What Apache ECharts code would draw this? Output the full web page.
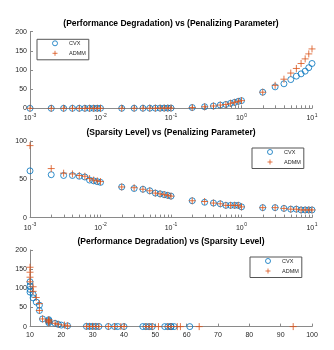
<!DOCTYPE html>
<html>
<head>
<meta charset="utf-8">
<script src="https://cdn.jsdelivr.net/npm/echarts@6/dist/echarts.min.js"></script>
<style>html,body{margin:0;padding:0;background:#fff}#c{width:334px;height:350px}</style>
</head>
<body>
<div id="c"></div>
<script>
// Penalizing parameter (lambda)
const lambda = [0.001,0.002,0.003,0.004,0.005,0.006,0.007,0.008,0.009,0.01,
  0.02,0.03,0.04,0.05,0.06,0.07,0.08,0.09,0.1,
  0.2,0.3,0.4,0.5,0.6,0.7,0.8,0.9,1,
  2,3,4,5,6,7,8,9,10];
// Performance degradation
const cvxPerf = [0,0,0,0,0,0,0,0,0,0.1,
  0.1,0.2,0.2,0.3,0.3,0.4,0.5,0.5,0.6,
  2,4,6,8.5,10,13,15.5,18,20,
  42,56,64,75,84,90,97,106,117];
const admmPerf = [0,0,0,0,0,0,0,0,0,0.1,
  0.1,0.2,0.2,0.3,0.3,0.4,0.5,0.5,0.6,
  2,4,6,8.5,10,13,15.5,18,20,
  42,60,76,92,104,117,129,142,155];
// Sparsity level
const cvxSparsity = [61,56,55,55,54,53,49,48,47,46,
  40,38,37,35,32,31,30,29,28,
  22,20,19,18,16,16,16,16,14,
  13,13,12,11,11,10,10,10,10];
const admmSparsity = [94,64,58,57,55,54,51,49,48,47,
  40,39,37,35,32,31,30,29,28,
  22,21,19,18,16,16,16,16,14,
  13,13,12,11,11,10,10,10,10];
// Log-axis minor tick values
const minorTicks = [];
[0.001,0.01,0.1,1].forEach(d => { for (let k = 2; k <= 9; k++) minorTicks.push(+(k*d).toPrecision(3)); });

const titles = ['(Performance Degradation) vs (Penalizing Parameter)',
  '(Sparsity Level) vs (Penalizing Parameter)',
  '(Performance Degradation) vs (Sparsity Level)'];
const seriesNames = ['CVX','ADMM'];

const BLUE = '#0072BD', ORANGE = '#D95319', AX = '#8a8a8a', TXT = '#262626';
const FONT = 'Liberation Sans, Arial, sans-serif';
const PLUS = 'path://M0,5L10,5M5,0L5,10';

const gridTops = [31.7, 141, 250];
const gridH = 76.6;

function zip(a, b) { return a.map((v, i) => [v, b[i]]); }

const logLabel = {
  fontFamily: FONT, color: TXT, margin: 5,
  formatter: v => '{b|10}{s|' + Math.round(Math.log10(v)) + '}',
  rich: { b: { fontSize: 7, fontFamily: FONT, color: TXT },
          s: { fontSize: 5, fontFamily: FONT, color: TXT, padding: [0, 0, 5, 0.5] } }
};
const axisCommon = {
  axisLine: { show: true, lineStyle: { color: AX, width: 1 } },
  axisTick: { show: true, inside: true, length: 3, lineStyle: { color: AX } },
  splitLine: { show: false }
};

const legendIcons = {
  CVX: { icon: 'circle', itemStyle: { color: 'rgba(0,0,0,0)', borderColor: BLUE, borderWidth: 1 } },
  ADMM: { icon: PLUS, itemStyle: { color: 'rgba(0,0,0,0)', borderColor: ORANGE, borderWidth: 1 } }
};

const option = {
  animation: false,
  backgroundColor: '#fff',
  title: titles.map((t, i) => ({
    text: t, left: 171, textAlign: 'center', top: gridTops[i] - 13, padding: 0,
    textStyle: { fontSize: 8.5, fontWeight: 'bold', fontFamily: FONT, color: '#000', lineHeight: 10 }
  })),
  grid: gridTops.map(t => ({ left: 30, right: 22, top: t, height: gridH })),
  xAxis: [
    Object.assign({ type: 'log', logBase: 10, min: 0.001, max: 10, gridIndex: 0, axisLabel: logLabel }, axisCommon),
    Object.assign({ type: 'log', logBase: 10, min: 0.001, max: 10, gridIndex: 1, axisLabel: logLabel }, axisCommon),
    Object.assign({ type: 'value', min: 10, max: 100, interval: 10, gridIndex: 2,
      axisLabel: { fontSize: 7, fontFamily: FONT, color: TXT, margin: 5 } }, axisCommon)
  ],
  yAxis: [
    Object.assign({ type: 'value', min: 0, max: 200, interval: 50, gridIndex: 0,
      axisLabel: { fontSize: 7, fontFamily: FONT, color: TXT, margin: 3 } }, axisCommon),
    Object.assign({ type: 'value', min: 0, max: 100, interval: 50, gridIndex: 1,
      axisLabel: { fontSize: 7, fontFamily: FONT, color: TXT, margin: 3 } }, axisCommon),
    Object.assign({ type: 'value', min: 0, max: 200, interval: 50, gridIndex: 2,
      axisLabel: { fontSize: 7, fontFamily: FONT, color: TXT, margin: 3 } }, axisCommon)
  ],
  legend: [[37, 39.3], [252, 148], [250, 257]].map((p, i) => ({
    data: seriesNames.map(n => Object.assign({ name: n + (i ? ' ' + i : '') }, legendIcons[n])),
    formatter: n => n.split(' ')[0],
    left: p[0], top: p[1], orient: 'vertical',
    itemWidth: 18, itemHeight: 5, itemGap: 4,
    padding: [1, 3, 3.5, 15],
    borderColor: '#555', borderWidth: 1, backgroundColor: '#fff',
    textStyle: { fontSize: 5.5, fontFamily: FONT, color: TXT }
  })),
  series: []
};

const sets = [
  [zip(lambda, cvxPerf), zip(lambda, admmPerf)],
  [zip(lambda, cvxSparsity), zip(lambda, admmSparsity)],
  [zip(cvxSparsity, cvxPerf), zip(admmSparsity, admmPerf)]
];
sets.forEach((pair, i) => {
  option.series.push({
    type: 'scatter', name: 'CVX' + (i ? ' ' + i : ''), xAxisIndex: i, yAxisIndex: i,
    data: pair[0], symbol: 'circle', symbolSize: 6,
    itemStyle: { color: 'rgba(0,0,0,0)', borderColor: BLUE, borderWidth: 1 },
    emphasis: { disabled: true }
  });
  option.series.push({
    type: 'scatter', name: 'ADMM' + (i ? ' ' + i : ''), xAxisIndex: i, yAxisIndex: i,
    data: pair[1], symbol: PLUS, symbolSize: 7,
    itemStyle: { color: 'rgba(0,0,0,0)', borderColor: ORANGE, borderWidth: 1 },
    emphasis: { disabled: true }
  });
});
[0, 1].forEach(i => {
  option.series.push({
    type: 'custom', xAxisIndex: i, yAxisIndex: i, silent: true, clip: false,
    data: minorTicks.map(v => [v, 0]),
    renderItem: (params, api) => {
      const p = api.coord([api.value(0), 0]);
      const x = Math.round(p[0]) + 0.5;
      return { type: 'line', shape: { x1: x, y1: p[1], x2: x, y2: p[1] - 3 },
        style: { stroke: AX, lineWidth: 1 } };
    }
  });
});

const chart = echarts.init(document.getElementById('c'), null, { renderer: 'canvas' });
chart.setOption(option);
</script>
</body>
</html>
